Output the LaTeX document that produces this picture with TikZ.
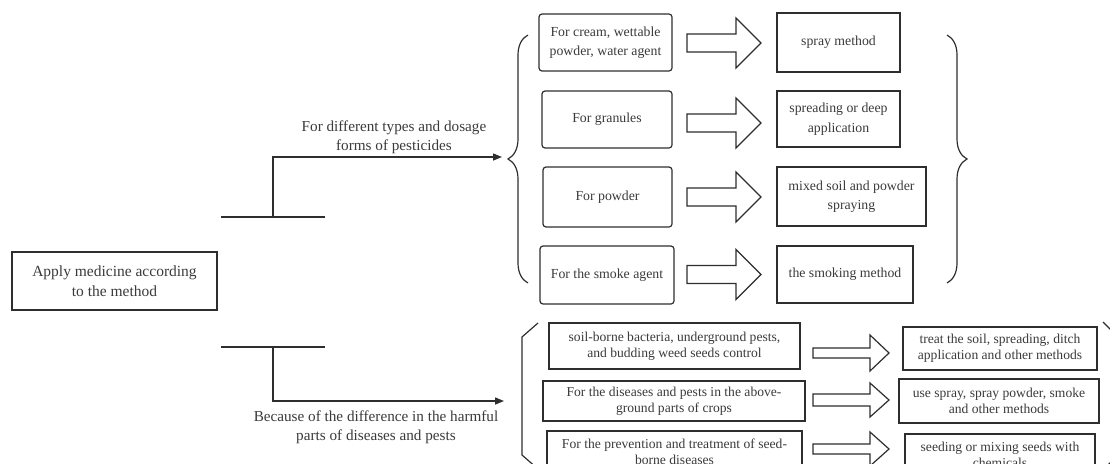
\documentclass[tikz,border=0pt]{standalone}
\usepackage{fontspec}
\setmainfont{Liberation Serif}
\usetikzlibrary{arrows.meta,decorations.pathreplacing}
\definecolor{ln}{HTML}{2E2E2E}
\definecolor{tx}{HTML}{3A3A3A}
\newcommand\blockarr[6]{\draw[barr] (#1,#4-#5) -- (#2,#4-#5) -- (#2,#4-#6) -- (#3,#4) -- (#2,#4+#6) -- (#2,#4+#5) -- (#1,#4+#5) -- cycle;}
\begin{document}
\begin{tikzpicture}[x=1pt,y=-1pt,
  bx/.style={draw=ln, line width=1.2pt, text=tx, align=center, inner sep=0pt},
  upl/.style={bx, rounded corners=3pt, font=\fontsize{13.8}{19.5}\selectfont},
  upr/.style={bx, font=\fontsize{13.8}{19.5}\selectfont},
  lowbx/.style={bx, font=\fontsize{13.6}{16}\selectfont},
  lbl/.style={text=tx, align=center, font=\fontsize{15.2}{19}\selectfont},
  conn/.style={draw=ln, line width=1.4pt},
  tip/.style={-{Triangle[length=9pt,width=7pt]}},
  barr/.style={draw=ln, line width=1.2pt, fill=white, line join=miter},
  brc/.style={draw=ln, line width=1.2pt, decorate, decoration={brace, amplitude=20pt}},
  brk/.style={draw=ln, line width=1.2pt}
]
\useasboundingbox (0,0) rectangle (1110,463);
\clip (0,0) rectangle (1110,463);

% main box
\node[bx, font=\fontsize{15.5}{20}\selectfont, minimum width=205pt, minimum height=58pt] (main) at (114.5,281) {Apply medicine according\\to the method};

% T connectors
\coordinate (t1a) at (221,217);
\coordinate (t1b) at (325,217);
\coordinate (t1m) at (273,217);
\coordinate (t1e) at (502,157);
\draw[conn] (t1a) -- (t1b);
\draw[conn, tip] (t1m) |- (t1e);
\node[lbl] (lab1) at (394,137) {For different types and dosage\\forms of pesticides};

\coordinate (t2a) at (221,347);
\coordinate (t2b) at (325,347);
\coordinate (t2m) at (273,347);
\coordinate (t2e) at (504,401);
\draw[conn] (t2a) -- (t2b);
\draw[conn, tip] (t2m) |- (t2e);
\node[lbl] (lab2) at (376,427) {Because of the difference in the harmful\\parts of diseases and pests};

% upper braces
\coordinate (b1s) at (528,283);
\coordinate (b1e) at (528,35);
\draw[brc] (b1s) -- (b1e);
\coordinate (b2s) at (947,35);
\coordinate (b2e) at (947,283);
\draw[brc] (b2s) -- (b2e);

% upper boxes
\node[upl, minimum width=133pt, minimum height=57pt] (u1l) at (605.5,42.5) {For cream, wettable\\powder, water agent};
\node[upr, minimum width=123pt, minimum height=59pt] (u1r) at (838.5,42.5) {spray method};
\node[upl, minimum width=130pt, minimum height=57pt] (u2l) at (607,119.5) {For granules};
\node[upr, minimum width=123pt, minimum height=56pt] (u2r) at (838.5,119) {spreading or deep\\application};
\node[upl, minimum width=129pt, minimum height=60pt] (u3l) at (607.5,197) {For powder};
\node[upr, minimum width=149pt, minimum height=59pt] (u3r) at (851.5,196.5) {mixed soil and powder\\spraying};
\node[upl, minimum width=134pt, minimum height=58pt] (u4l) at (607,275) {For the smoke agent};
\node[upr, minimum width=136pt, minimum height=57pt] (u4r) at (845,274.5) {the smoking method};

% upper block arrows
\blockarr{687}{736}{761}{43}{9}{25}
\blockarr{687}{736}{761}{123}{9}{25}
\blockarr{687}{736}{761}{197}{9}{25}
\blockarr{687}{736}{761}{274.5}{9}{25}

% lower brackets
\draw[brk] (538,323) -- (522,337) -- (522,455) -- (538,469);
\draw[brk] (1103,322) -- (1118,337) -- (1118,455) -- (1103,470);

% lower boxes
\node[lowbx, minimum width=251pt, minimum height=46pt] (lal) at (674.5,346) {soil-borne bacteria, underground pests,\\and budding weed seeds control};
\node[lowbx, minimum width=194pt, minimum height=43pt] (lar) at (1000,348.5) {treat the soil, spreading, ditch\\application and other methods};
\node[lowbx, minimum width=262pt, minimum height=40pt] (lbl) at (674,401) {For the diseases and pests in the above-\\ground parts of crops};
\node[lowbx, minimum width=200pt, minimum height=44pt] (lbr) at (999,401) {use spray, spray powder, smoke\\and other methods};
\node[lowbx, minimum width=255pt, minimum height=42pt] (lcl) at (674.5,452) {For the prevention and treatment of seed-\\borne diseases};
\node[lowbx, minimum width=190pt, minimum height=42pt] (lcr) at (1000,455) {seeding or mixing seeds with\\chemicals};

% lower block arrows
\blockarr{813}{870}{889}{353}{5}{18}
\blockarr{813}{870}{889}{400}{6}{17}
\blockarr{813}{870}{889}{449}{5}{17}
\end{tikzpicture}
\end{document}
